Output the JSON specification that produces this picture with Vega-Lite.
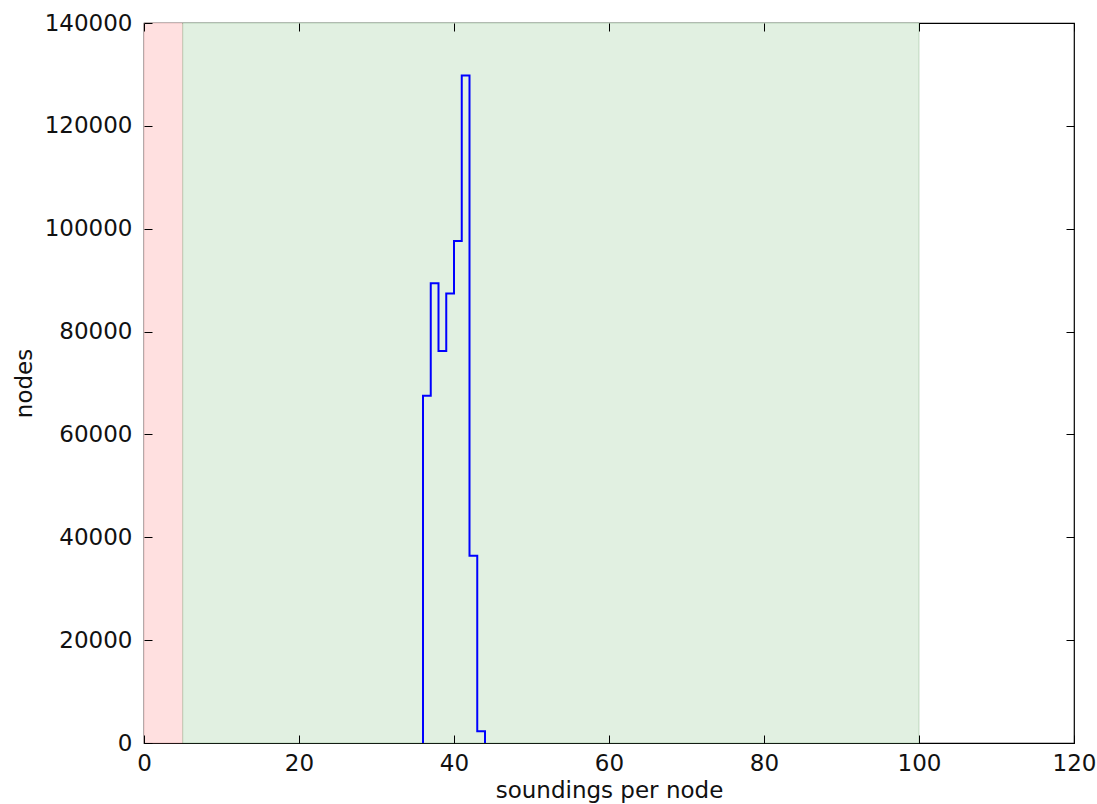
{
  "$schema": "https://vega.github.io/schema/vega-lite/v6.json",
  "autosize": "none",
  "padding": {"left": 144, "top": 23, "right": 23, "bottom": 61},
  "width": 930,
  "height": 720,
  "background": "white",
  "config": {
    "view": {"stroke": "#000000", "strokeWidth": 1.2},
    "font": "DejaVu Sans",
    "axis": {
      "grid": false,
      "domain": false,
      "offset": -8,
      "tickColor": "#000000",
      "tickSize": 8,
      "tickWidth": 1,
      "labelFont": "DejaVu Sans",
      "labelFontSize": 23,
      "labelColor": "#111111",
      "titleFont": "DejaVu Sans",
      "titleFontSize": 23,
      "titleFontWeight": "normal",
      "titleColor": "#111111"
    }
  },
  "datasets": {
    "spans": [
      {"x": 0, "x2": 5, "zone": "low"},
      {"x": 5, "x2": 100, "zone": "ok"}
    ],
    "hist": [
      {"i": 0, "soundings": 36, "nodes": 0},
      {"i": 1, "soundings": 36, "nodes": 67500},
      {"i": 2, "soundings": 37, "nodes": 89400},
      {"i": 3, "soundings": 38, "nodes": 76200},
      {"i": 4, "soundings": 39, "nodes": 87400},
      {"i": 5, "soundings": 40, "nodes": 97600},
      {"i": 6, "soundings": 41, "nodes": 129800},
      {"i": 7, "soundings": 42, "nodes": 36400},
      {"i": 8, "soundings": 43, "nodes": 2300},
      {"i": 9, "soundings": 44, "nodes": 0}
    ]
  },
  "layer": [
    {
      "data": {"name": "spans"},
      "mark": {"type": "rect", "strokeWidth": 1, "strokeOpacity": 0.35},
      "encoding": {
        "x": {
          "field": "x", "type": "quantitative",
          "scale": {"domain": [0, 120], "nice": false, "zero": false},
          "axis": {"orient": "bottom", "zindex": 2, "title": "soundings per node", "format": "d", "values": [0, 20, 40, 60, 80, 100, 120], "labelPadding": 9, "titlePadding": 4, "labelFlush": false}
        },
        "x2": {"field": "x2"},
        "y": {"datum": 0, "type": "quantitative",
          "scale": {"domain": [0, 140000], "nice": false},
          "axis": {"orient": "left", "zindex": 2, "title": "nodes", "format": "d", "values": [0, 20000, 40000, 60000, 80000, 100000, 120000, 140000], "labelPadding": 12, "titlePadding": 8, "labelFlush": false}
        },
        "y2": {"datum": 140000},
        "fill": {"field": "zone", "type": "nominal", "scale": {"domain": ["low", "ok"], "range": ["#ffe0e0", "#e1f0e1"]}, "legend": null},
        "stroke": {"field": "zone", "type": "nominal", "scale": {"domain": ["low", "ok"], "range": ["#c08080", "#70a070"]}, "legend": null}
      }
    },
    {
      "data": {"name": "hist"},
      "mark": {"type": "line", "interpolate": "step-after", "color": "#0000ff", "strokeWidth": 2},
      "encoding": {
        "x": {"field": "soundings", "type": "quantitative",
          "axis": {"orient": "top", "zindex": 2, "title": null, "labels": false, "values": [0, 20, 40, 60, 80, 100, 120]}},
        "y": {"field": "nodes", "type": "quantitative",
          "axis": {"orient": "right", "zindex": 2, "title": null, "labels": false, "values": [0, 20000, 40000, 60000, 80000, 100000, 120000, 140000]}},
        "order": {"field": "i", "type": "quantitative"}
      }
    }
  ],
  "resolve": {"axis": {"x": "independent", "y": "independent"}}
}
